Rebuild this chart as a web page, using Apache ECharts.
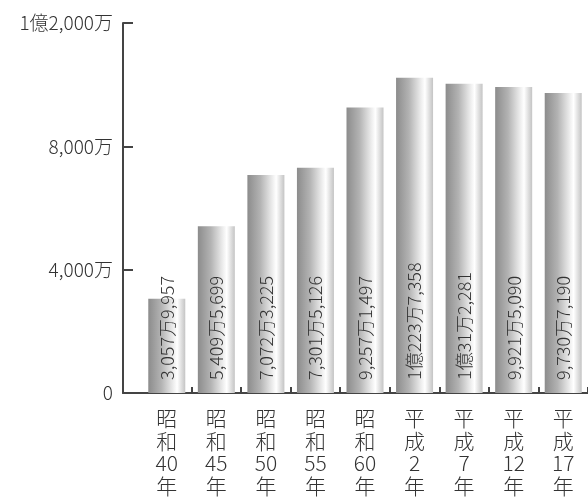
<!DOCTYPE html>
<html>
<head>
<meta charset="utf-8">
<script src="https://cdn.jsdelivr.net/npm/echarts@6/dist/echarts.min.js"></script>
<style>
  html, body { margin: 0; padding: 0; background: #fff; }
  #chart { width: 588px; height: 498px; }
</style>
</head>
<body>
<div id="chart"></div>
<script>
const categories = ['昭和40年', '昭和45年', '昭和50年', '昭和55年', '昭和60年', '平成2年', '平成7年', '平成12年', '平成17年'];
const values = [30579957, 54095699, 70723225, 73015126, 92571497, 102237358, 100312281, 99215090, 97307190];
const valueLabels = ['3,057万9,957', '5,409万5,699', '7,072万3,225', '7,301万5,126', '9,257万1,497', '1億223万7,358', '1億31万2,281', '9,921万5,090', '9,730万7,190'];
const yTickLabels = { 0: '0', 40000000: '4,000万', 80000000: '8,000万', 120000000: '1億2,000万' };

const font = "'Noto Sans CJK JP', sans-serif";
const axisColor = '#444';

// 縦書きラベル: 昭和40年 -> 昭\n和\n40\n年
function verticalLabel(s) {
  const m = s.match(/^(.)(.)(\d+)(年)$/);
  return m ? [m[1], m[2], m[3], m[4]].join('\n') : s;
}

const chart = echarts.init(document.getElementById('chart'));

const barGradient = new echarts.graphic.LinearGradient(0, 0, 1, 0, [
  { offset: 0, color: '#8c8c8c' },
  { offset: 0.35, color: '#b3b3b3' },
  { offset: 0.68, color: '#eeeeee' },
  { offset: 0.78, color: '#ffffff' },
  { offset: 0.9, color: '#dedede' },
  { offset: 1, color: '#c4c4c4' },
]);

const option = {
  animation: false,
  grid: [
    { left: 123, right: 0, top: 23, bottom: 105 },
    { left: 142, right: 0, top: 23, bottom: 105 },
  ],
  xAxis: [
    {
      gridIndex: 0, type: 'value', min: 0, max: 1,
      axisLine: { show: true, lineStyle: { color: axisColor, width: 2 } },
      axisTick: { show: false }, axisLabel: { show: false }, splitLine: { show: false },
    },
    {
      gridIndex: 1, type: 'category', data: categories,
      axisLine: { show: false },
      axisTick: {
        show: true, inside: true, length: 6,
        interval: (i) => i > 0,
        lineStyle: { color: axisColor, width: 2 },
      },
      axisLabel: {
        interval: 0, margin: 14,
        fontFamily: font, fontSize: 21, fontWeight: 300, lineHeight: 22.5, color: '#333',
        formatter: verticalLabel,
      },
    },
  ],
  yAxis: [
    {
      gridIndex: 0, type: 'value', min: 0, max: 120000000, interval: 40000000,
      axisLine: { show: true, lineStyle: { color: axisColor, width: 2 } },
      axisTick: { show: true, inside: true, length: 10, lineStyle: { color: axisColor, width: 2 } },
      splitLine: { show: false },
      axisLabel: {
        margin: 10, fontFamily: font, fontSize: 19, fontWeight: 300, color: '#333',
        formatter: (v) => yTickLabels[v] ?? '',
      },
    },
    {
      gridIndex: 1, type: 'value', min: 0, max: 120000000, show: false,
    },
  ],
  series: [
    {
      type: 'bar',
      xAxisIndex: 1,
      yAxisIndex: 1,
      data: values,
      barWidth: 37,
      itemStyle: { color: barGradient },
      label: {
        show: true,
        position: 'insideBottom',
        rotate: 90,
        align: 'left',
        verticalAlign: 'middle',
        distance: 13,
        fontFamily: font,
        fontSize: 18,
        fontWeight: 300,
        color: '#333',
        formatter: ({ dataIndex }) => valueLabels[dataIndex],
      },
    },
  ],
};

chart.setOption(option);
</script>
</body>
</html>
